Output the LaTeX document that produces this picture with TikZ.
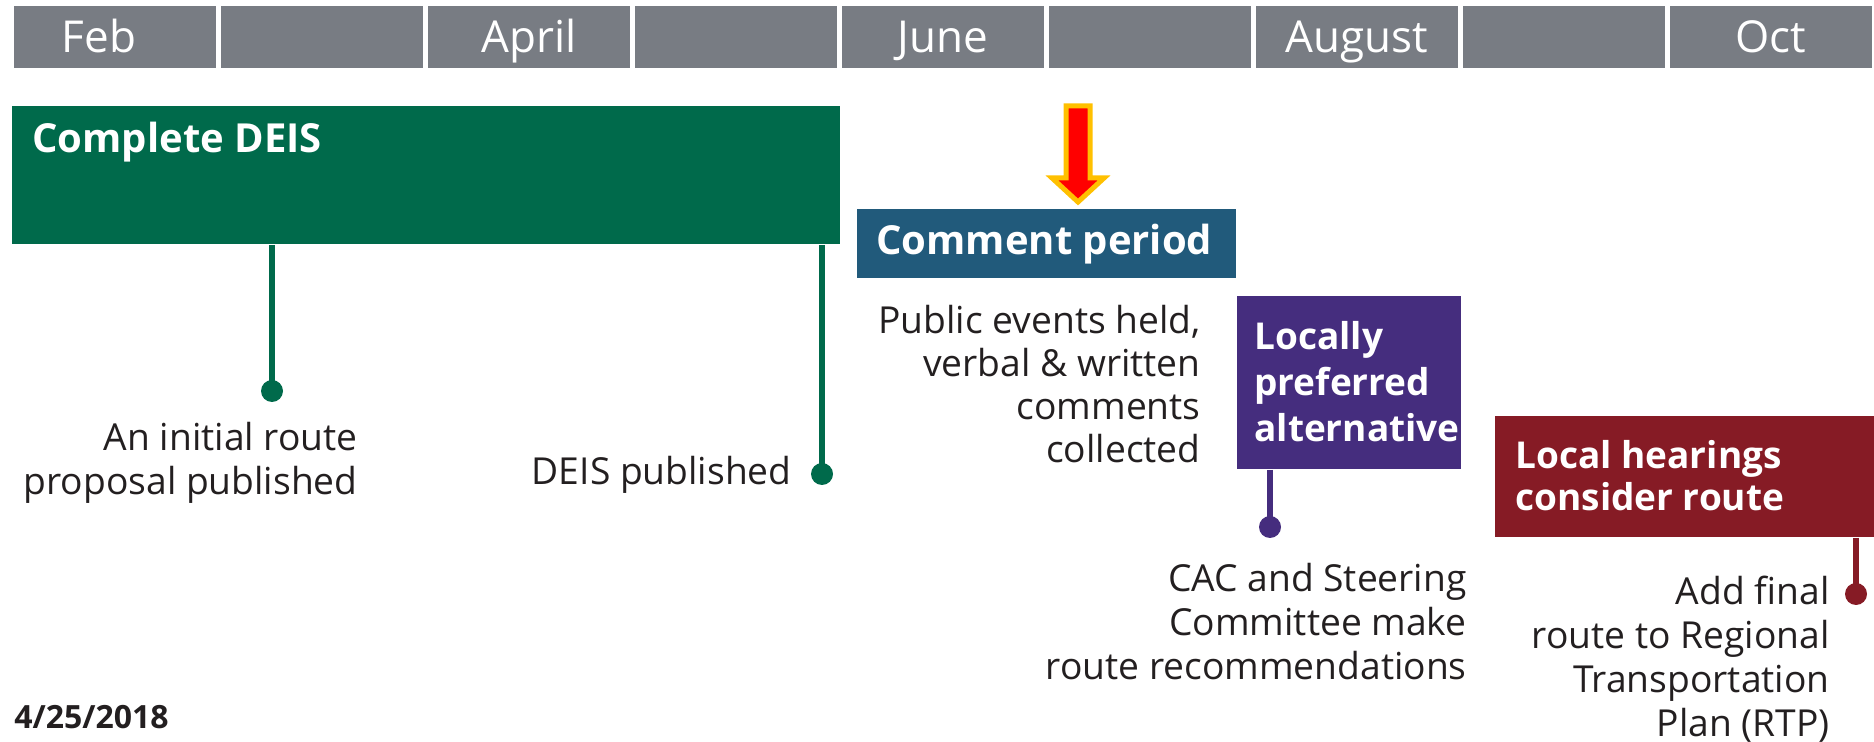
\documentclass[tikz,border=0pt]{standalone}
\usepackage{fontspec}
\setmainfont{Open Sans}
\definecolor{bargray}{HTML}{787C83}
\definecolor{deisgreen}{HTML}{006A4B}
\definecolor{cblue}{HTML}{215A7B}
\definecolor{lpurple}{HTML}{452D7E}
\definecolor{hred}{HTML}{861B25}
\definecolor{arrred}{HTML}{FF0000}
\definecolor{arrorange}{HTML}{FFC000}
\definecolor{txt}{HTML}{231F20}
\tikzset{
  cell/.style={fill=bargray, draw=none, minimum width=101pt, minimum height=31pt, anchor=north west, inner sep=0pt},
  month/.style={text=white, font=\fontsize{22}{24}\selectfont, inner sep=0pt, anchor=base},
  phase/.style={draw=none, anchor=north west, inner sep=0pt},
  phasetxt/.style={text=white, font=\fontsize{19.5}{23}\bfseries\selectfont, align=left, anchor=west, inner sep=0pt},
  body/.style={text=txt, font=\fontsize{18.6}{22}\selectfont, align=right, anchor=east, inner sep=0pt},
  dot/.style={circle, minimum size=11pt, inner sep=0pt},
  conn/.style={line width=3.2pt}
}
\begin{document}
\begin{tikzpicture}[x=0.5pt, y=-0.5pt]
\useasboundingbox (0,0) rectangle (1874,742);
% month bar
\foreach \i in {0,...,8} {
  \node[cell] (c\i) at ({14+\i*206.9},6) {};
}
\node[month] (mfeb) at (99,53) {Feb};
\node[month] (mapr) at (c2.center |- 0,53) {April};
\node[month] (mjun) at (c4.center |- 0,53) {June};
\node[month] (maug) at (c6.center |- 0,53) {August};
\node[month] (moct) at (c8.center |- 0,53) {Oct};

% Complete DEIS
\node[phase, fill=deisgreen, minimum width=414pt, minimum height=69pt] (gbox) at (12,106) {};
\node[phasetxt, font=\fontsize{20}{23}\bfseries\selectfont] (gtxt) at (32,142) {Complete DEIS};
\node[dot, fill=deisgreen] (d1) at (272,391) {};
\node[dot, fill=deisgreen] (d2) at (822,474) {};
\draw[conn, deisgreen] (gbox.south -| d1) -- (d1.center);
\draw[conn, deisgreen] (gbox.south -| d2) -- (d2.center);
\node[body] (t1) at (358,463) {An initial route\\proposal published};
\node[body] (t2) at (792,475) {DEIS published};

% arrow
\filldraw[fill=arrred, draw=arrorange, line width=2.5pt, miter limit=10]
  (1066,106) -- (1090,106) -- (1090,178) -- (1104,178) -- (1078,202) -- (1052,178) -- (1066,178) -- cycle;

% Comment period
\node[phase, fill=cblue, minimum width=189.5pt, minimum height=34.5pt] (cbox) at (857,209) {};
\node[phasetxt, font=\fontsize{20}{23}\bfseries\selectfont] (ctxt) at (876,244) {Comment period};
\node[body, font=\fontsize{18.6}{21.5}\selectfont] (t3) at (1201,384) {Public events held,\\verbal \& written\\comments\\collected};

% Locally preferred alternative
\node[phase, fill=lpurple, minimum width=112pt, minimum height=86.5pt] (pbox) at (1237,296) {};
\node[phasetxt, font=\fontsize{18.5}{23}\bfseries\selectfont] (ptxt) at (1254,382) {Locally\\preferred\\alternative};
\node[dot, fill=lpurple] (d3) at (1270,527) {};
\draw[conn, lpurple] (pbox.south -| d3) -- (d3.center);
\node[body] (t4) at (1467,622) {CAC and Steering\\Committee make\\route recommendations};

% Local hearings
\node[phase, fill=hred, minimum width=190pt, minimum height=60.5pt] (rbox) at (1495,416) {};
\node[phasetxt, font=\fontsize{18.5}{21}\bfseries\selectfont] (rtxt) at (1515,476) {Local hearings\\consider route};
\node[dot, fill=hred] (d4) at (1856,594) {};
\draw[conn, hred] (rbox.south -| d4) -- (d4.center);
\node[body] (t5) at (1830,659) {Add final\\route to Regional\\Transportation\\Plan (RTP)};

% date
\node[text=txt, font=\fontsize{16}{18}\bfseries\selectfont, anchor=west, inner sep=0pt] (date) at (14,717) {4/25/2018};
\end{tikzpicture}
\end{document}
